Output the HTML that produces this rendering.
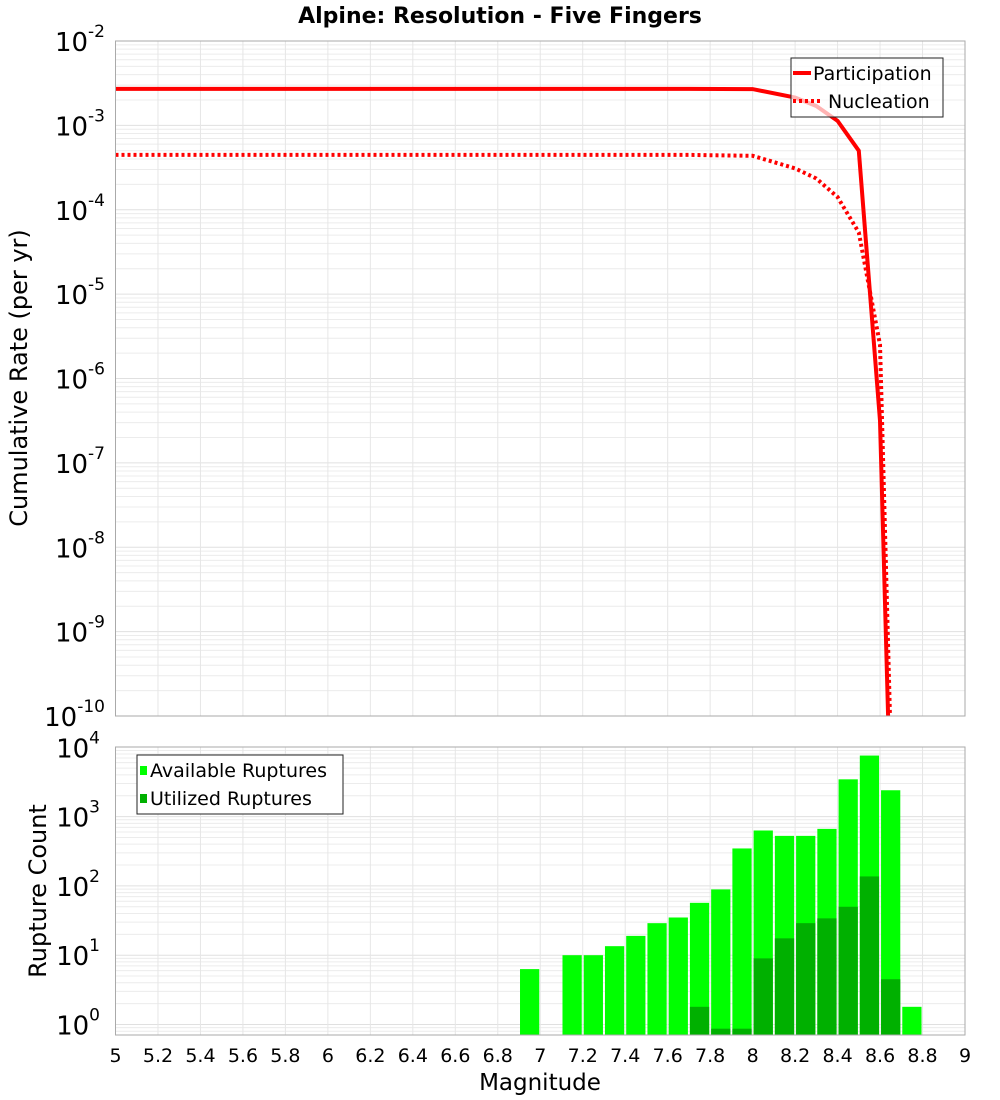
<!DOCTYPE html>
<html><head><meta charset="utf-8"><style>
body{margin:0;background:#fff;}
svg{display:block;font-family:"DejaVu Sans","Liberation Sans",sans-serif;}
</style></head><body>
<svg id="chart" width="1000" height="1100" viewBox="0 0 1000 1100">
<text x="500" y="23" text-anchor="middle" font-size="22" font-weight="bold">Alpine: Resolution - Five Fingers</text>
<g id="topg"></g><g id="botg"></g>
<text transform="translate(27,378) rotate(-90)" text-anchor="middle" font-size="24">Cumulative Rate (per yr)</text>
<text transform="translate(46,891) rotate(-90)" text-anchor="middle" font-size="24">Rupture Count</text>
<text x="540" y="1090" text-anchor="middle" font-size="23">Magnitude</text>
</svg>
<script>
const mags=[5,5.5,6,6.5,7,7.5,7.7,8.0,8.2,8.3,8.4,8.5,8.6,8.7];
const partLog=[-2.568,-2.568,-2.568,-2.568,-2.568,-2.568,-2.568,-2.57,-2.67,-2.77,-2.947,-3.30,-6.50,-15.7];
const nuclLog=[-3.35,-3.35,-3.35,-3.35,-3.35,-3.35,-3.35,-3.36,-3.51,-3.63,-3.85,-4.27,-5.6,-15];
const binCenters=[6.95,7.15,7.25,7.35,7.45,7.55,7.65,7.75,7.85,7.95,8.05,8.15,8.25,8.35,8.45,8.55,8.65,8.75];
const available=[6.3,10,10,13.5,19,29,35,57,89,347,630,527,527,665,3450,7600,2400,1.8];
const utilized=[0,0,0,0,0,0,0,1.8,0.87,0.87,9,17.5,29,34,50,137,4.5,0];
const xTicks=[5,5.2,5.4,5.6,5.8,6,6.2,6.4,6.6,6.8,7,7.2,7.4,7.6,7.8,8,8.2,8.4,8.6,8.8,9];
const xTickLabels=["5","5.2","5.4","5.6","5.8","6","6.2","6.4","6.6","6.8","7","7.2","7.4","7.6","7.8","8","8.2","8.4","8.6","8.8","9"];
const topDecades=[-2,-3,-4,-5,-6,-7,-8,-9,-10];
const botDecades=[0,1,2,3,4];

const NS="http://www.w3.org/2000/svg";
const L=115.5,R=965;
const X=m=>L+(m-5)*(R-L)/4;
const TT=41,TB=716,YT=v=>TT+(-2-v)*(TB-TT)/8;
const BT=747,BB=1035,B0=1024.5,BD=69.3,YB=v=>B0-v*BD;
function el(tag,attrs,parent,text){const e=document.createElementNS(NS,tag);for(const k in attrs)e.setAttribute(k,attrs[k]);if(text!==undefined)e.textContent=text;parent.appendChild(e);return e;}
const gTop=document.getElementById('topg'),gBot=document.getElementById('botg');

function grid(g,yFn,lo,hi,yt,yb){
  for(let d=lo;d<hi;d++){for(let k=1;k<10;k++){const y=yFn(d+Math.log10(k));if(y>=yt&&y<=yb){const l=el('line',{x1:L,x2:R,y1:y,y2:y,stroke:k==1?'#e0e0e0':'#ececec','stroke-width':1},g);

}}}
  xTicks.forEach(m=>{const l=el('line',{x1:X(m),x2:X(m),y1:yt,y2:yb,stroke:'#e6e6e6','stroke-width':1},g);

});
}
grid(gTop,YT,-10,-1,TT,TB);
grid(gBot,YB,-1,4,BT,BB);

topDecades.forEach(d=>{const y=YT(d);const t=el('text',{x:105,y:y+10,'text-anchor':'end','font-size':26},gTop);


el('tspan',{},t,'10');el('tspan',{dy:-14,'font-size':17},t,String(d));});
botDecades.forEach(d=>{const y=YB(d);const t=el('text',{x:100,y:y+10,'text-anchor':'end','font-size':26},gBot);


el('tspan',{},t,'10');el('tspan',{dy:-14,'font-size':17},t,String(d));});

const clip=el('clipPath',{id:'cp'},gTop);el('rect',{x:L,y:TT,width:R-L,height:TB-TT},clip);
function path(vals){return mags.map((m,i)=>(i?'L':'M')+X(m).toFixed(1)+','+YT(vals[i]).toFixed(1)).join(' ');}
const pn=el('path',{d:path(nuclLog),fill:'none',stroke:'#ff0000','stroke-width':4,'stroke-dasharray':'3,3','clip-path':'url(#cp)'},gTop);


const pp=el('path',{d:path(partLog),fill:'none',stroke:'#ff0000','stroke-width':4,'clip-path':'url(#cp)'},gTop);


const fr1=el('rect',{x:L,y:TT,width:R-L,height:TB-TT,fill:'none',stroke:'#aaa','stroke-width':1},gTop);


const lgd=el('g',{},gTop);


el('rect',{x:791,y:58,width:152,height:59,fill:'rgba(255,255,255,0.7)',stroke:'#222','stroke-width':1},lgd);
el('line',{x1:793,x2:811,y1:73,y2:73,stroke:'#f00','stroke-width':4},lgd);
el('text',{x:813,y:80,'font-size':19},lgd,'Participation');
el('line',{x1:793,x2:823,y1:101,y2:101,stroke:'#f00','stroke-width':4,'stroke-dasharray':'3,3'},lgd);
el('text',{x:828,y:108,'font-size':19},lgd,'Nucleation');

const bw=(R-L)/40;
binCenters.forEach((c,i)=>{
  const x=X(c)-bw/2+1,w=bw-2;
  if(available[i]>0){const y=Math.max(BT,YB(Math.log10(available[i])));const r=el('rect',{x:x,y:y,width:w,height:BB-y,fill:'#00ff00'},gBot);

}
  if(utilized[i]>0){const y=YB(Math.log10(utilized[i]));const r=el('rect',{x:x,y:y,width:w,height:BB-y,fill:'#00b000'},gBot);

}
});
const fr2=el('rect',{x:L,y:BT,width:R-L,height:BB-BT,fill:'none',stroke:'#aaa','stroke-width':1},gBot);


xTicks.forEach((m,i)=>{const t=el('text',{x:X(m),y:1062,'text-anchor':'middle','font-size':19},gBot,xTickLabels[i]);

});
const lb=el('g',{},gBot);


el('rect',{x:137,y:755,width:206,height:59,fill:'#fff',stroke:'#222','stroke-width':1},lb);
el('rect',{x:140,y:766,width:7,height:9,fill:'#00ff00'},lb);
el('text',{x:150,y:777,'font-size':19},lb,'Available Ruptures');
el('rect',{x:140,y:794,width:7,height:9,fill:'#00b000'},lb);
el('text',{x:150,y:805,'font-size':19},lb,'Utilized Ruptures');
</script>
</body></html>
